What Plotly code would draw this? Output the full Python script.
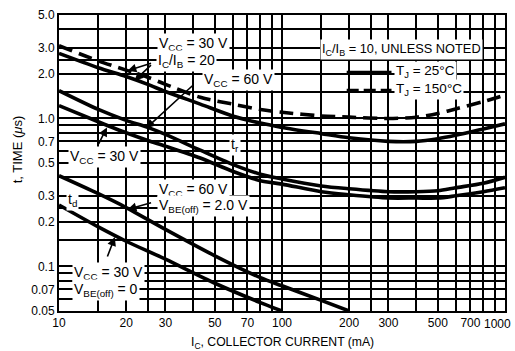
import math
import plotly.graph_objects as go

# ---------------- data ----------------
IC_TR = [10, 15, 20, 25, 30, 43, 60, 80, 100, 150, 200, 300, 400, 500, 600, 800, 1000]
TR_150C_IB20 = [3.1, 2.45, 2.12, 1.9, 1.7, 1.39, 1.25, 1.15, 1.1, 1.04, 1.02, 1.0, 1.02, 1.08, 1.16, 1.3, 1.44]
TR_25C_IB20 = [2.75, 2.2, 1.92, 1.7, 1.52, 1.25, 1.04, 0.93, 0.87, 0.79, 0.74, 0.70, 0.70, 0.73, 0.77, 0.85, 0.92]
TR_VCC60 = [1.54, 1.15, 0.97, 0.87, 0.78, 0.61, 0.49, 0.42, 0.39, 0.35, 0.335, 0.32, 0.32, 0.325, 0.34, 0.365, 0.40]
TR_VCC30 = [1.22, 0.95, 0.80, 0.71, 0.65, 0.54, 0.44, 0.38, 0.36, 0.32, 0.305, 0.29, 0.29, 0.29, 0.30, 0.32, 0.34]

IC_TD60 = [10, 15, 20, 30, 50, 80, 100, 150, 200]
TD_VCC60 = [0.41, 0.31, 0.25, 0.178, 0.118, 0.084, 0.074, 0.059, 0.05]
IC_TD30 = [10, 15, 20, 30, 50, 80, 100]
TD_VCC30 = [0.26, 0.185, 0.148, 0.112, 0.077, 0.057, 0.05]

X_TICKS = [10, 20, 30, 50, 70, 100, 200, 300, 500, 700]
X_TICK_TEXT = ["10", "20", "30", "50", "70", "100", "200", "300", "500", "700"]
X_MINOR = [15, 25, 40, 60, 80, 90, 150, 250, 400, 600, 800, 900, 1000]
Y_TICKS = [0.05, 0.07, 0.1, 0.2, 0.3, 0.5, 0.7, 1.0, 2.0, 3.0, 5.0]
Y_TICK_TEXT = ["0.05", "0.07", "0.1", "0.2", "0.3", "0.5", "0.7", "1.0", "2.0", "3.0", "5.0"]
Y_MINOR = [0.06, 0.08, 0.09, 0.15, 0.25, 0.4, 0.6, 0.8, 0.9, 1.5, 2.5, 4.0]

LEGEND_NAMES = ["T<sub>J</sub> = 25°C", "T<sub>J</sub> = 150°C"]

FONT = "Liberation Sans, Arial, sans-serif"
L = math.log10
LW = 3.6
DASH = "14px,7px"
GRID = dict(showgrid=True, gridcolor="black", gridwidth=1.5)
TICK_SIZE = 12

# pixel -> paper helpers (plot area 59..507 x 13..311)
def px(x):
    return (x - 59) / 448
def py(y):
    return 1 - (y - 13) / 298

fig = go.Figure()
sp = dict(shape="spline", smoothing=0.8, color="black", width=LW)
fig.add_trace(go.Scatter(x=IC_TR, y=TR_25C_IB20, mode="lines", line=sp, name=LEGEND_NAMES[0], showlegend=False))
fig.add_trace(go.Scatter(x=IC_TR, y=TR_150C_IB20, mode="lines", line=dict(sp, dash=DASH),
                         name=LEGEND_NAMES[1], showlegend=False))
fig.add_trace(go.Scatter(x=IC_TR, y=TR_VCC60, mode="lines", line=sp, showlegend=False))
fig.add_trace(go.Scatter(x=IC_TR, y=TR_VCC30, mode="lines", line=sp, showlegend=False))
fig.add_trace(go.Scatter(x=IC_TD60, y=TD_VCC60, mode="lines", line=sp, showlegend=False))
fig.add_trace(go.Scatter(x=IC_TD30, y=TD_VCC30, mode="lines", line=sp, showlegend=False))

axis_common = dict(type="log", showline=True, linecolor="black", linewidth=2, mirror=True,
                   ticks="", zeroline=False, tickfont=dict(size=TICK_SIZE, color="black", family=FONT), **GRID)
fig.update_xaxes(range=[L(10), L(1000)], tickmode="array", tickvals=X_TICKS, ticktext=X_TICK_TEXT,
                 minor=dict(tickvals=X_MINOR, ticks="", **GRID), **axis_common)
fig.update_yaxes(range=[L(0.05), L(5)], tickmode="array", tickvals=Y_TICKS, ticktext=Y_TICK_TEXT,
                 minor=dict(tickvals=Y_MINOR, ticks="", **GRID), **axis_common)

ann = []
def label(text, x, y, size=14):
    ann.append(dict(text=text, x=L(x), y=L(y), xref="x", yref="y", showarrow=False,
                    xanchor="left", yanchor="middle", bgcolor="white", borderpad=1,
                    font=dict(size=size, color="black", family=FONT)))

def arrow(x, y, ax, ay):
    ann.append(dict(text="", x=L(x), y=L(y), xref="x", yref="y", showarrow=True,
                    ax=ax, ay=ay, arrowhead=2, arrowsize=1.1, arrowwidth=1.6, arrowcolor="black",
                    standoff=0, startstandoff=0))

label("V<sub>CC</sub> = 30 V", 27.4, 3.19)
label("I<sub>C</sub>/I<sub>B</sub> = 20", 27.1, 2.45)
label("V<sub>CC</sub> = 60 V", 44.0, 1.83)
label("V<sub>CC</sub> = 30 V", 10.95, 0.547)
label("t<sub>r</sub>", 58.1, 0.66)
label("I<sub>C</sub>/I<sub>B</sub> = 10, UNLESS NOTED", 148, 2.91, size=12.8)
label("t<sub>d</sub>", 10.7, 0.28)
label("V<sub>CC</sub> = 60 V", 27.4, 0.328)
label("V<sub>BE(off)</sub> = 2.0 V", 27.4, 0.257)
label("V<sub>CC</sub> = 30 V", 11.4, 0.091)
label("V<sub>BE(off)</sub> = 0", 11.4, 0.069)

arrow(20.3, 2.10, 25, -8)
arrow(21.8, 1.80, 18, -17)
arrow(24.6, 0.86, 48, -44)
arrow(16.4, 0.87, -9, 18)
arrow(20.3, 0.243, 25, -7)
arrow(17.8, 0.158, -8, 21)

# legend (key) drawn as sample lines + white-backed labels
shapes = []
for i, (yy, dash) in enumerate([(71, "solid"), (89, "12px,5px")]):
    shapes.append(dict(type="line", xref="paper", yref="paper", x0=px(348), x1=px(393), y0=py(yy), y1=py(yy),
                       line=dict(color="black", width=LW, dash=dash)))
    ann.append(dict(text=LEGEND_NAMES[i], x=px(395), y=py(yy - 1), xref="paper", yref="paper", showarrow=False,
                    xanchor="left", yanchor="middle", bgcolor="white", borderpad=1,
                    font=dict(size=13.5, color="black", family=FONT)))

# last x tick label, kept inside the page like the reference
ann.append(dict(text="1000", x=px(515), y=py(324), xref="paper", yref="paper",
                showarrow=False, xanchor="right", yanchor="middle",
                font=dict(size=TICK_SIZE, color="black", family=FONT)))
# axis titles
ann.append(dict(text="I<sub>C</sub>, COLLECTOR CURRENT (mA)", x=px(284), y=py(343),
                xref="paper", yref="paper", showarrow=False, xanchor="center", yanchor="middle",
                font=dict(size=12.2, color="black", family=FONT)))
ann.append(dict(text="t, TIME (<i>μ</i>s)", x=px(17), y=py(148),
                xref="paper", yref="paper", showarrow=False, xanchor="center", yanchor="middle",
                textangle=-90, font=dict(size=13, color="black", family=FONT)))

fig.update_layout(
    width=515, height=351, margin=dict(l=59, r=8, t=13, b=40),
    paper_bgcolor="white", plot_bgcolor="white",
    font=dict(family=FONT, color="black", size=14),
    annotations=ann, shapes=shapes, showlegend=False,
)

fig.write_html("out.html")
